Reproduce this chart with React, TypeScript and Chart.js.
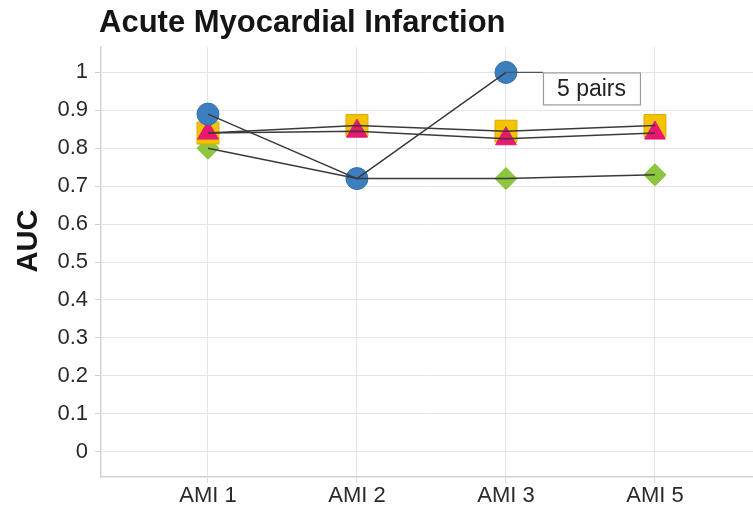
import React, { useEffect, useRef } from "react";
import { Chart, registerables } from "chart.js";

Chart.register(...registerables);

const chartTitle = "Acute Myocardial Infarction";
const yAxisTitle = "AUC";
const categories = ["AMI 1", "AMI 2", "AMI 3", "AMI 5"];
const yTicks = [0, 0.1, 0.2, 0.3, 0.4, 0.5, 0.6, 0.7, 0.8, 0.9, 1];
const annotationText = "5 pairs";

const blueCircle = [0.89, 0.72, 1.0, null];
const yellowSquare = [0.84, 0.86, 0.845, 0.86];
const pinkTriangle = [0.84, 0.845, 0.825, 0.84];
const greenDiamond = [0.8, 0.72, 0.72, 0.73];

const toXY = (arr: (number | null)[]) =>
  arr.map((v, i) => ({ x: i, y: v }));

const FONT = "'Liberation Sans', Arial, Helvetica, sans-serif";

const overlayPlugin = {
  id: "overlay",
  afterDatasetsDraw(chart: any) {
    const ctx = chart.ctx;
    const meta = chart.getDatasetMeta(4);
    const pt = meta.data[2];
    if (pt) {
      const px = pt.x;
      const py = pt.y;
      const bx = px + 37;
      const by = py;
      const bw = 97;
      const bh = 32;
      ctx.save();
      ctx.strokeStyle = "#555";
      ctx.lineWidth = 1.2;
      ctx.beginPath();
      ctx.moveTo(px, py);
      ctx.lineTo(bx, py);
      ctx.stroke();
      ctx.fillStyle = "#fff";
      ctx.strokeStyle = "#9a9a9a";
      ctx.lineWidth = 1.2;
      ctx.fillRect(bx, by, bw, bh);
      ctx.strokeRect(bx + 0.5, by + 0.5, bw, bh);
      ctx.fillStyle = "#222";
      ctx.font = `23px ${FONT}`;
      ctx.textAlign = "center";
      ctx.textBaseline = "middle";
      ctx.fillText(annotationText, bx + bw / 2, by + bh / 2 + 1);
      ctx.restore();
    }
  },
  afterDraw(chart: any) {
    const ctx = chart.ctx;
    ctx.save();
    ctx.fillStyle = "#151515";
    ctx.font = `bold 31px ${FONT}`;
    ctx.textAlign = "left";
    ctx.textBaseline = "alphabetic";
    ctx.fillText(chartTitle, 99, 32);
    ctx.translate(37, 241);
    ctx.rotate(-Math.PI / 2);
    ctx.textAlign = "center";
    ctx.font = `bold 29px ${FONT}`;
    ctx.fillText(yAxisTitle, 0, 0);
    ctx.restore();
  },
};

export default function App() {
  const ref = useRef<HTMLCanvasElement | null>(null);

  useEffect(() => {
    if (!ref.current) return;
    const lineColor = "#3a3a3a";
    const lineDs = (data: (number | null)[]) => ({
      type: "line" as const,
      data: toXY(data),
      borderColor: lineColor,
      borderWidth: 1.5,
      pointRadius: 0,
      showLine: true,
      spanGaps: false,
      order: 0,
    });
    const chart = new Chart(ref.current, {
      type: "scatter",
      data: {
        datasets: [
          lineDs(blueCircle),
          lineDs(yellowSquare),
          lineDs(pinkTriangle),
          lineDs(greenDiamond),
          {
            data: toXY(blueCircle),
            pointStyle: "circle",
            pointRadius: 11,
            backgroundColor: "#3b7fc0",
            borderColor: "#3571ad",
            borderWidth: 1,
            showLine: false,
            order: 1,
          },
          {
            data: toXY(pinkTriangle),
            pointStyle: "triangle",
            pointRadius: 12,
            backgroundColor: "#e8176f",
            borderColor: "#e8176f",
            borderWidth: 1,
            showLine: false,
            order: 2,
          },
          {
            data: toXY(yellowSquare),
            pointStyle: "rect",
            pointRadius: 15.5,
            backgroundColor: "#f4c300",
            borderColor: "#e0a800",
            borderWidth: 1,
            showLine: false,
            order: 3,
          },
          {
            data: toXY(greenDiamond),
            pointStyle: "rectRot",
            pointRadius: 11,
            backgroundColor: "#8dc63f",
            borderColor: "#84bb38",
            borderWidth: 1,
            showLine: false,
            order: 4,
          },
        ] as any,
      },
      options: {
        responsive: false,
        animation: false,
        events: [],
        layout: {
          autoPadding: false,
          padding: { top: 47, right: 0, left: 0, bottom: 0 },
        },
        plugins: {
          legend: { display: false },
          tooltip: { enabled: false },
          title: { display: false },
        },
        scales: {
          x: {
            type: "linear",
            min: -0.718,
            max: 3.658,
            afterBuildTicks: (scale: any) => {
              scale.ticks = categories.map((_, i) => ({ value: i }));
            },
            afterFit: (scale: any) => {
              scale.height = 29;
              scale.paddingLeft = 0;
              scale.paddingRight = 0;
            },
            ticks: {
              callback: (v: any) => categories[v as number] ?? "",
              color: "#2a2a2a",
              font: { family: FONT, size: 22 },
              padding: 0,
              maxRotation: 0,
              autoSkip: false,
            },
            grid: {
              color: "#e4e4e4",
              lineWidth: 1,
              drawTicks: true,
              tickLength: 6,
              tickColor: "#dcdcdc",
            },
            border: { color: "#d2d2d2", width: 1.5 },
          },
          y: {
            type: "linear",
            min: -0.067,
            max: 1.067,
            afterBuildTicks: (scale: any) => {
              scale.ticks = yTicks.map((v) => ({ value: v }));
            },
            afterFit: (scale: any) => {
              scale.width = 101;
              scale.paddingTop = 0;
              scale.paddingBottom = 0;
            },
            ticks: {
              callback: (v: any) => String(Math.round((v as number) * 10) / 10),
              color: "#2a2a2a",
              font: { family: FONT, size: 22 },
              padding: 7,
              autoSkip: false,
            },
            grid: {
              color: "#e4e4e4",
              lineWidth: 1,
              drawTicks: true,
              tickLength: 6,
              tickColor: "#d0d0d0",
            },
            border: { color: "#d2d2d2", width: 1.5 },
          },
        },
      },
      plugins: [overlayPlugin],
    } as any);
    return () => chart.destroy();
  }, []);

  return (
    <div
      style={{
        position: "fixed",
        left: 0,
        top: 0,
        width: 753,
        height: 506,
        background: "#fff",
      }}
    >
      <canvas ref={ref} width={753} height={506} />
    </div>
  );
}
